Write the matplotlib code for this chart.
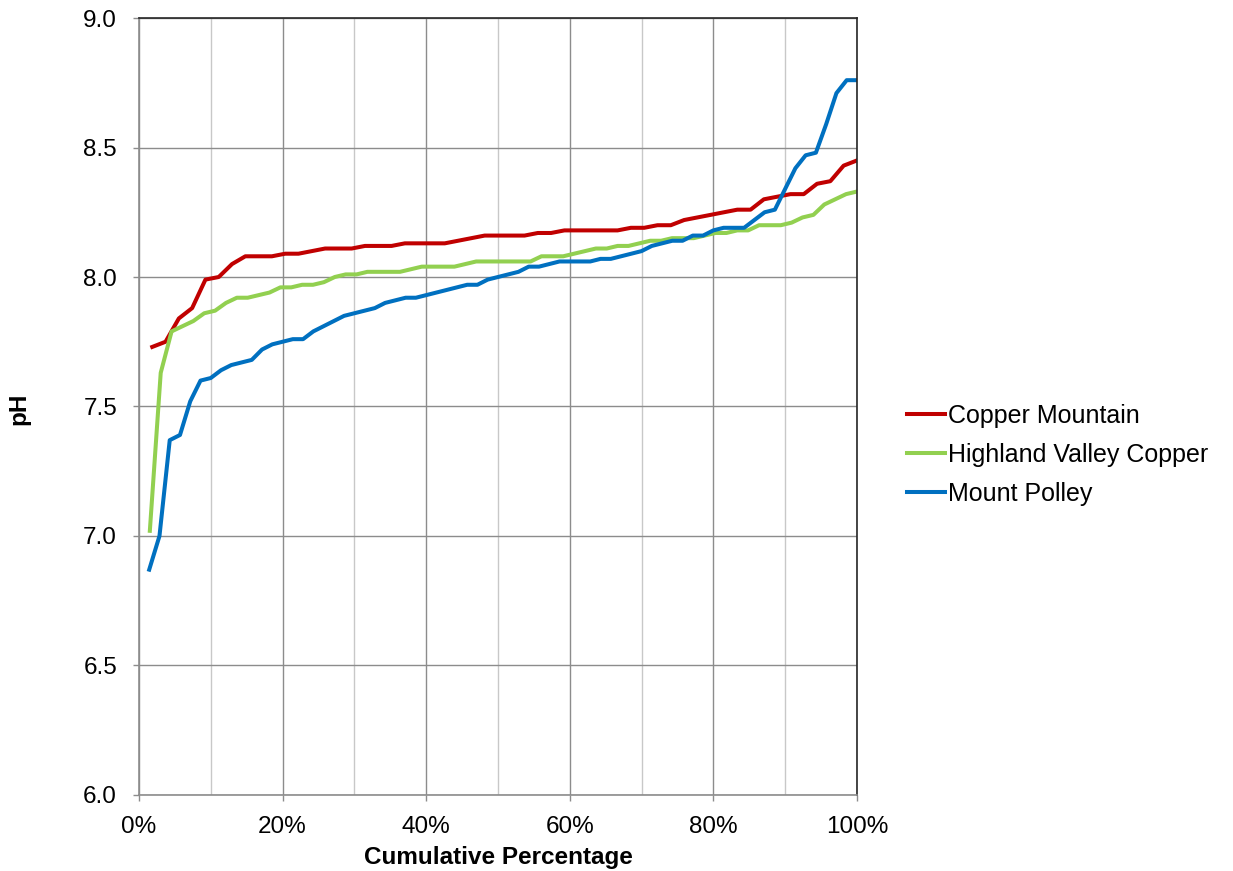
import numpy as np
import matplotlib
matplotlib.use("Agg")
import matplotlib.pyplot as plt
from matplotlib.ticker import MultipleLocator, FuncFormatter

plt.rcParams['font.family'] = ['Liberation Sans', 'DejaVu Sans']

# pH values, sorted (one series per mine)
copper_mountain = [7.73, 7.75, 7.84, 7.88, 7.99, 8.00, 8.05, 8.08, 8.08, 8.08,
                   8.09, 8.09, 8.10, 8.11, 8.11, 8.11, 8.12, 8.12, 8.12, 8.13,
                   8.13, 8.13, 8.13, 8.14, 8.15, 8.16, 8.16, 8.16, 8.16, 8.17,
                   8.17, 8.18, 8.18, 8.18, 8.18, 8.18, 8.19, 8.19, 8.20, 8.20,
                   8.22, 8.23, 8.24, 8.25, 8.26, 8.26, 8.30, 8.31, 8.32, 8.32,
                   8.36, 8.37, 8.43, 8.45]

highland_valley = [7.02, 7.63, 7.79, 7.81, 7.83, 7.86, 7.87, 7.90, 7.92, 7.92,
                   7.93, 7.94, 7.96, 7.96, 7.97, 7.97, 7.98, 8.00, 8.01, 8.01,
                   8.02, 8.02, 8.02, 8.02, 8.03, 8.04, 8.04, 8.04, 8.04, 8.05,
                   8.06, 8.06, 8.06, 8.06, 8.06, 8.06, 8.08, 8.08, 8.08, 8.09,
                   8.10, 8.11, 8.11, 8.12, 8.12, 8.13, 8.14, 8.14, 8.15, 8.15,
                   8.15, 8.16, 8.17, 8.17, 8.18, 8.18, 8.20, 8.20, 8.20, 8.21,
                   8.23, 8.24, 8.28, 8.30, 8.32, 8.33]

mount_polley = [6.87, 7.00, 7.37, 7.39, 7.52, 7.60, 7.61, 7.64, 7.66, 7.67,
                7.68, 7.72, 7.74, 7.75, 7.76, 7.76, 7.79, 7.81, 7.83, 7.85,
                7.86, 7.87, 7.88, 7.90, 7.91, 7.92, 7.92, 7.93, 7.94, 7.95,
                7.96, 7.97, 7.97, 7.99, 8.00, 8.01, 8.02, 8.04, 8.04, 8.05,
                8.06, 8.06, 8.06, 8.06, 8.07, 8.07, 8.08, 8.09, 8.10, 8.12,
                8.13, 8.14, 8.14, 8.16, 8.16, 8.18, 8.19, 8.19, 8.19, 8.22,
                8.25, 8.26, 8.34, 8.42, 8.47, 8.48, 8.59, 8.71, 8.76, 8.76]

series = [("Copper Mountain", copper_mountain, "#C00000"),
          ("Highland Valley Copper", highland_valley, "#92D050"),
          ("Mount Polley", mount_polley, "#0070C0")]

fig = plt.figure(figsize=(12.33, 8.71), dpi=100)
ax = fig.add_axes([0.1127, 0.0873, 0.5823, 0.892])

for name, vals, col in series:
    n = len(vals)
    pct = np.arange(1, n + 1) / n  # cumulative percentage (rank / count)
    ax.plot(pct, vals, color=col, lw=2.9, label=name, solid_joinstyle="round")

ax.set_xlim(0, 1)
ax.set_ylim(6.0, 9.0)
ax.xaxis.set_major_locator(MultipleLocator(0.2))
ax.xaxis.set_minor_locator(MultipleLocator(0.1))
ax.yaxis.set_major_locator(MultipleLocator(0.5))
ax.xaxis.set_major_formatter(FuncFormatter(lambda v, p: f"{v*100:.0f}%"))
ax.yaxis.set_major_formatter(FuncFormatter(lambda v, p: f"{v:.1f}"))

ax.grid(which="major", axis="both", color="#8c8c8c", lw=1.0)
ax.grid(which="minor", axis="x", color="#c8c8c8", lw=1.0)
ax.set_axisbelow(True)

for s in ax.spines.values():
    s.set_color("#8c8c8c")
    s.set_linewidth(1.2)
ax.spines["right"].set_color("#262626")
ax.spines["top"].set_color("#262626")

ax.tick_params(which="major", length=4.3, width=1.0, color="#8c8c8c",
               direction="out", labelsize=17.5)
ax.tick_params(which="minor", length=0)
ax.tick_params(axis="x", pad=11)
ax.tick_params(axis="y", pad=11.5)

ax.set_xlabel("Cumulative Percentage", fontsize=17.5, fontweight="bold")
ax.xaxis.set_label_coords(0.5, -0.081)
ax.xaxis.label.set_va("center")
ax.set_ylabel("pH", fontsize=17.5, fontweight="bold")
ax.yaxis.set_label_coords(-0.167, 0.497)
ax.yaxis.label.set_va("center")

leg = fig.legend(loc="center left", bbox_to_anchor=(0.7356, 0.4776), frameon=False,
                 fontsize=18, handlelength=1.52, handletextpad=0.12,
                 labelspacing=0.6, borderpad=0, borderaxespad=0)

fig.savefig("out.png", dpi=100)
